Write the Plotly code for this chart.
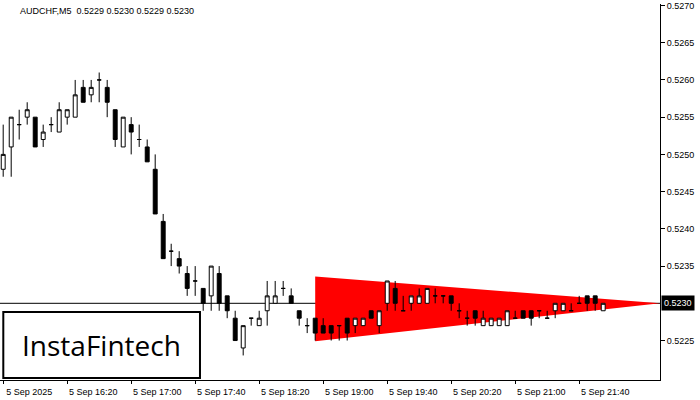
import plotly.graph_objects as go

symbol_title = "AUDCHF,M5  0.5229 0.5230 0.5229 0.5230"

opens = [.5248, .5251, .5254, .5255, .5255, .5252, .5254, .5253, .5255, .5255,
         .5259, .5258, .5260, .5259, .5256, .5251, .5254, .5252, .5251, .5248,
         .5241, .5237, .5236, .5234, .5233, .5232, .5231, .5234, .5231, .5228,
         .5224, .5228, .5227, .5229, .5230, .5232, .5231, .5229, .5227, .5228,
         .5227, .5227, .5227, .5228, .5227, .5227, .5229, .5227, .5230, .5232,
         .5229, .5230, .5230, .5230, .5231, .5231, .5231, .5229, .5228, .5229,
         .5227, .5227, .5227, .5227, .5228, .5229, .5229, .5229, .5228, .5229,
         .5229, .5229, .5230, .5231, .5231, .5229]
highs = [.5254, .5255, .5256, .5257, .5255, .5254, .5255, .5257, .5256, .5260,
         .5260, .5260, .5261, .5260, .5256, .5255, .5255, .5254, .5252, .5250,
         .5242, .5238, .5237, .5235, .5235, .5232, .5235, .5235, .5231, .5229,
         .5227, .5228, .5229, .5233, .5233, .5233, .5232, .5229, .5228, .5228,
         .5228, .5227, .5227, .5228, .5228, .5228, .5229, .5229, .5233, .5233,
         .5231, .5231, .5232, .5232, .5232, .5231, .5231, .5230, .5229, .5229,
         .5229, .5228, .5228, .5229, .5229, .5229, .5229, .5229, .5229, .5230,
         .5230, .5230, .5231, .5231, .5231, .5230]
lows = [.5247, .5247, .5252, .5254, .5251, .5251, .5253, .5253, .5254, .5255,
        .5257, .5257, .5257, .5255, .5251, .5251, .5250, .5251, .5249, .5242,
        .5236, .5235, .5234, .5231, .5231, .5229, .5229, .5229, .5228, .5225,
        .5223, .5227, .5227, .5227, .5230, .5231, .5230, .5227, .5226, .5225,
        .5226, .5225, .5225, .5225, .5226, .5227, .5228, .5226, .5229, .5229,
        .5229, .5229, .5230, .5230, .5230, .5230, .5229, .5228, .5227, .5227,
        .5227, .5227, .5227, .5227, .5228, .5228, .5227, .5228, .5228, .5228,
        .5229, .5229, .5230, .5229, .5229, .5229]
closes = [.5250, .5255, .5254, .5256, .5251, .5253, .5254, .5256, .5256, .5258,
          .5257, .5259, .5260, .5257, .5252, .5255, .5253, .5252, .5249, .5242,
          .5236, .5237, .5235, .5232, .5233, .5230, .5235, .5230, .5229, .5225,
          .5227, .5228, .5228, .5231, .5231, .5232, .5230, .5228, .5227, .5226,
          .5226, .5226, .5227, .5226, .5228, .5228, .5228, .5229, .5233, .5230,
          .5229, .5231, .5231, .5232, .5231, .5231, .5230, .5229, .5228, .5228,
          .5228, .5228, .5228, .5229, .5228, .5228, .5228, .5229, .5228, .5230,
          .5230, .5229, .5230, .5230, .5230, .5230]

time_labels = ["5 Sep 2025", "5 Sep 16:20", "5 Sep 17:00", "5 Sep 17:40", "5 Sep 18:20",
               "5 Sep 19:00", "5 Sep 19:40", "5 Sep 20:20", "5 Sep 21:00", "5 Sep 21:40"]
# 0.5230 is shown by the last-price box instead
price_ticks = [0.5225, 0.5235, 0.5240, 0.5245, 0.5250, 0.5255, 0.5260, 0.5265, 0.5270]

# pattern triangle: start candle top, start candle bottom, apex
tri_x = [39, 39, 82.1]
tri_y = [0.52336, 0.52249, 0.5230]
last_price = 0.5230

idx = list(range(len(opens)))

fig = go.Figure()
fig.add_trace(go.Candlestick(
    x=idx, open=opens, high=highs, low=lows, close=closes,
    increasing=dict(fillcolor="white", line=dict(color="black", width=1)),
    decreasing=dict(fillcolor="black", line=dict(color="black", width=1)),
    whiskerwidth=0, hoverinfo="skip"))

tri_path = "M {} {} L {} {} L {} {} Z".format(tri_x[0], tri_y[0], tri_x[1], tri_y[1], tri_x[2], tri_y[2])
fig.add_shape(type="path", path=tri_path, xref="x", yref="y", layer="below",
              fillcolor="#ff0000", line=dict(width=0))
fig.add_shape(type="line", xref="paper", x0=0, x1=1, yref="y", y0=last_price, y1=last_price,
              layer="below", line=dict(color="black", width=1))

fig.update_layout(
    width=700, height=400, showlegend=False,
    margin=dict(l=0, r=40, t=4, b=20, autoexpand=False),
    paper_bgcolor="white", plot_bgcolor="white",
    font=dict(family="Liberation Sans", size=9, color="black"),
    xaxis=dict(range=[-0.4, 82.1], rangeslider=dict(visible=False), showgrid=False,
               zeroline=False, showline=True, linecolor="black", automargin=False,
               tickvals=list(range(0, 80, 8)), ticktext=time_labels,
               ticks="outside", ticklen=3, tickcolor="black", ticklabelshift=26),
    yaxis=dict(range=[0.52197, 0.52702], side="right", showgrid=False, zeroline=False,
               showline=True, linecolor="black", tickvals=price_ticks, tickformat=".4f",
               ticks="outside", ticklen=4, tickcolor="black", automargin=False),
)

fig.add_annotation(x=0.027, y=1, xref="paper", yref="paper", text=symbol_title,
                   showarrow=False, xanchor="left", yanchor="top", font=dict(size=9))
fig.add_annotation(x=1.002, y=last_price, xref="paper", yref="y", text="0.5230",
                   showarrow=False, xanchor="left", bgcolor="black",
                   font=dict(color="white", size=9), borderpad=2)

fig.add_shape(type="rect", xref="paper", yref="paper", x0=0.005, x1=0.303, y0=0.005, y1=0.181,
              fillcolor="white", line=dict(color="black", width=2), layer="above")
fig.add_annotation(x=0.154, y=0.093, xref="paper", yref="paper", text="InstaFintech",
                   xanchor="center", yanchor="middle",
                   showarrow=False, font=dict(family="Open Sans", size=28, color="black"))

fig.write_html("out.html", config={"displayModeBar": False},
               post_script="document.body.style.margin='0';")
